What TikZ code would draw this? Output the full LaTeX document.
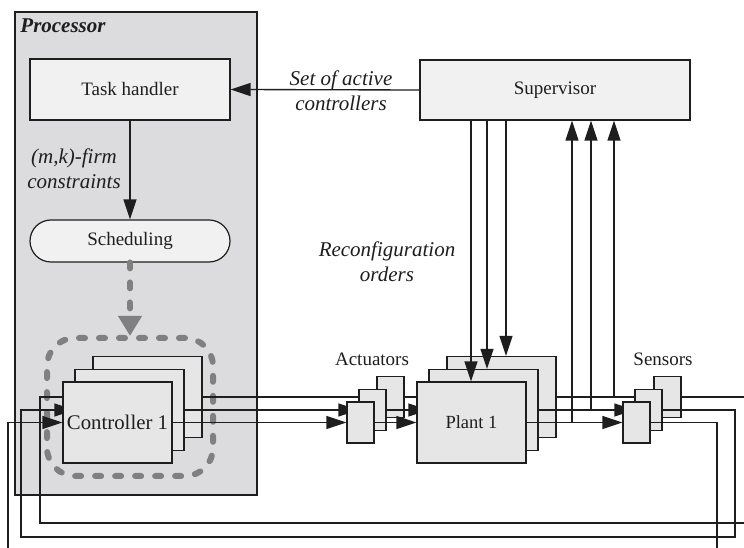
\documentclass[tikz,border=0pt]{standalone}
\usepackage{fontspec}
\setmainfont{Liberation Serif}
\usetikzlibrary{arrows.meta}
\definecolor{procfill}{RGB}{220,220,222}
\definecolor{boxfill}{RGB}{230,230,230}
\definecolor{lightfill}{RGB}{241,241,241}
\definecolor{ln}{RGB}{30,30,30}
\definecolor{dgray}{RGB}{128,128,128}
\begin{document}
\begin{tikzpicture}[x=0.75pt,y=-0.75pt,
  sz/.style 2 args={minimum width=#1*0.75pt, minimum height=#2*0.75pt},
  txt/.style={font=\fontsize{14.25}{17}\selectfont, text=ln},
  lab/.style={font=\fontsize{15.75}{18.5}\selectfont\itshape, text=ln, align=center, inner sep=0pt},
  procbox/.style={draw=ln, line width=1.5pt, fill=procfill, inner sep=0pt},
  lightbox/.style={draw=ln, line width=0.9pt, fill=lightfill, inner sep=0pt, txt},
  stackbox/.style={draw=ln, line width=0.9pt, fill=boxfill, inner sep=0pt},
  big/.style={stackbox, sz={109}{81}},
  small/.style={stackbox, sz={27}{41}},
  conn/.style={draw=ln, line width=1pt},
  arr/.style={conn, -{Triangle[length=15pt,width=9.75pt]}},
  dashbox/.style={draw=dgray, line width=4.5pt, line cap=round, dash pattern=on 4.5pt off 10.5pt, rounded corners=21pt, inner sep=0pt},
  dasharrow/.style={draw=dgray, line width=4.8pt, line cap=round, dash pattern=on 4.2pt off 10.8pt, -{Triangle[length=15pt,width=17pt]}},
]
\useasboundingbox (0,0) rectangle (744,548);
\clip (0,0) rectangle (744,548);
\fill[white] (0,0) rectangle (744,548);

% processor
\node[procbox, sz={242}{483}] (proc) at (136,253.5) {};
\node[font=\fontsize{15.75}{18}\selectfont\bfseries\itshape, text=ln, inner sep=0pt] (proclab) at (63,26) {Processor};
\node[lightbox, sz={200}{61}] (task) at (130,89.5) {Task handler};
\node[lightbox, sz={200}{42}, rounded corners=15.75pt] (sched) at (130,241) {Scheduling};
\node[lightbox, sz={270}{60}] (sup) at (555,90) {Supervisor};

\node[lab] (setlab) at (341,91) {Set of active\\controllers};
\node[lab] (mklab) at (74,169) {(m,k)-firm\\constraints};
\node[lab] (reclab) at (387,262) {Reconfiguration\\orders};
\node[txt, inner sep=0pt] (actlab) at (372,359) {Actuators};
\node[txt, inner sep=0pt] (senlab) at (663,359) {Sensors};

\draw[arr] (sup.west) -- (task.east);
\draw[arr] (task.south) -- (sched.north);

\node[dashbox, sz={166}{138}] (grp) at (130,407) {};
\coordinate (grptip) at (130,336);
\draw[dasharrow] (sched.south) -- (grptip);

% x positions of vertical connectors
\coordinate (r1) at (471,0);
\coordinate (r2) at (487,0);
\coordinate (r3) at (506,0);
\coordinate (f1) at (572,0);
\coordinate (f2) at (591,0);
\coordinate (f3) at (614,0);

% back layer
\node[big] (ctrl3) at (147.5,397) {};
\node[small] (act3) at (390.5,397) {};
\node[big] (plant3) at (501.5,397) {};
\node[small] (sen3) at (667.5,397) {};
\draw[conn] (ctrl3.east) -- (act3.west);
\draw[conn] (act3.east) -- (plant3.west);
\draw[conn] (plant3.east) -- (sen3.west);
\draw[conn] (sen3.east) -- ++(80,0) |- (40,523) |- (ctrl3.west);
\draw[arr] (sup.south -| r3) -- (plant3.north -| r3);
\draw[arr] (f3 |- plant3.east) -- (f3 |- sup.south);

% middle layer
\node[big] (ctrl2) at (129.5,410) {};
\node[small] (act2) at (372.5,410) {};
\node[big] (plant2) at (483.5,410) {};
\node[small] (sen2) at (648.5,410) {};
\draw[arr] (ctrl2.east) -- (act2.west);
\draw[arr] (act2.east) -- (plant2.west);
\draw[arr] (plant2.east) -- (sen2.west);
\draw[arr] (sen2.east) -| (735,537) -| (21,410) -- (ctrl2.west);
\draw[arr] (sup.south -| r2) -- (plant2.north -| r2);
\draw[arr] (f2 |- plant2.east) -- (f2 |- sup.south);

% front layer
\node[big, txt, font=\fontsize{15.6}{18}\selectfont] (ctrl1) at (117.5,422.5) {Controller 1};
\node[small] (act1) at (360.5,422.5) {};
\node[big, txt, font=\fontsize{13.9}{17}\selectfont] (plant1) at (471.5,422.5) {Plant 1};
\node[small] (sen1) at (636.5,422.5) {};
\draw[arr] (ctrl1.east) -- (act1.west);
\draw[arr] (act1.east) -- (plant1.west);
\draw[arr] (plant1.east) -- (sen1.west);
\draw[arr] (sen1.east) -| (717,570) -| (8,422.5) -- (ctrl1.west);
\draw[arr] (sup.south -| r1) -- (plant1.north -| r1);
\draw[arr] (f1 |- plant1.east) -- (f1 |- sup.south);
\end{tikzpicture}
\end{document}
